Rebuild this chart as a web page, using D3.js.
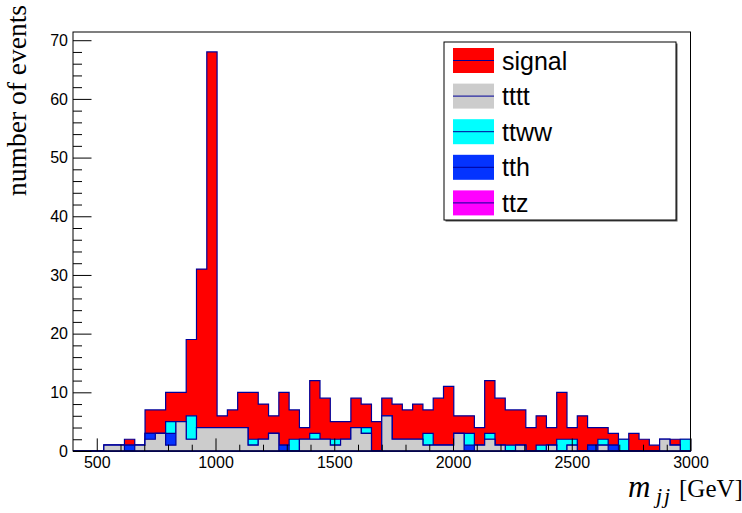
<!DOCTYPE html>
<html>
<head>
<meta charset="utf-8">
<script src="https://cdn.jsdelivr.net/npm/d3@7"></script>
<style>
	body { margin: 0; background: #fff; }
</style>
</head>
<body>
<div id="chart"></div>
<script>
'use strict';

// histogram binning (GeV)
const xLow = 400;
const xHigh = 3000;
const nBins = 60;

// bin contents, stacked bottom -> top
const ttz = [
	0,0,0,0,0,0,0,0,0,0, 0,0,0,0,0,0,0,0,0,0,
	0,0,0,0,0,0,0,0,0,0, 0,0,0,0,0,0,0,0,0,0,
	0,0,0,0,0,0,0,0,0,0, 0,0,0,0,0,0,0,0,0,0 ];
const tttt = [
	0,0,0,1,1,0,1,2,3,1, 5,2,4,4,4,4,4,1,2,3,
	0,0,2,2,2,1,2,4,3,0, 6,2,2,2,1,1,1,3,0,1,
	2,1,0,1,0,0,1,0,1,0, 0,1,0,0,0,0,0,2,1,0 ];
const tth = [
	0,0,0,0,0,1,0,1,0,2, 0,0,0,0,0,0,0,0,0,0,
	1,0,0,0,0,0,0,0,0,0, 0,0,0,0,0,0,0,0,1,0,
	0,0,0,0,0,0,0,0,0,0, 1,0,1,0,0,0,0,0,0,0 ];
const ttww = [
	0,0,0,0,0,0,0,0,0,2, 0,4,0,0,0,0,0,1,0,0,
	0,2,0,1,0,1,0,0,1,0, 0,0,0,0,2,0,0,0,2,0,
	1,0,1,0,0,1,0,2,1,0, 0,1,0,2,0,0,0,0,0,2 ];
const signal = [
	0,0,0,0,0,1,0,4,4,5, 5,13,27,64,2,3,6,8,6,3,
	9,5,2,9,7,3,3,5,4,5, 3,6,5,6,4,8,10,3,3,3,
	9,8,6,6,4,5,3,8,2,6, 3,2,2,0,3,2,1,0,1,0 ];

const names = ["ttz", "tttt", "tth", "ttww", "signal"];
const colors = {
	signal: "#ff0000",
	tttt: "#cccccc",
	ttww: "#00ffff",
	tth: "#0433ff",
	ttz: "#ff00ff" };
const legendNames = ["signal", "tttt", "ttww", "tth", "ttz"];

const xTicks = [500, 1000, 1500, 2000, 2500, 3000];
const yTicks = [0, 10, 20, 30, 40, 50, 60, 70];

const width = 742, height = 513;
const frame = { left: 73, right: 690.5, top: 32, bottom: 451 };
const lineColor = "#000099";

// table for d3.stack
const binWidth = (xHigh - xLow) / nBins;
const table = signal.map((d, i) => ({
	lo: xLow + i * binWidth,
	ttz: ttz[i], tttt: tttt[i], tth: tth[i], ttww: ttww[i], signal: signal[i] }));
// closing point at the upper edge for the step curve
table.push(Object.assign({}, table[table.length-1], { lo: xHigh }));

const stacked = d3.stack().keys(names)(table);
const ymax = 1.05 * d3.max(stacked[stacked.length-1], d => d[1]);

const x = d3.scaleLinear().domain([xLow, xHigh]).range([frame.left, frame.right]);
const y = d3.scaleLinear().domain([0, ymax]).range([frame.bottom, frame.top]);

const svg = d3.select("#chart")
	.append("svg")
		.attr("width", width)
		.attr("height", height)
		.style("font-family", "'Liberation Sans', Arial, sans-serif")
	;

// ROOT style: each layer drawn 0 -> cumulative, top layer first
const area = d3.area()
	.curve(d3.curveStepAfter)
	.x(d => x(d.data.lo))
	.y0(y(0))
	.y1(d => y(d[1]))
	;

svg.append("g")
	.selectAll("path")
	.data(stacked.slice().reverse())
	.join("path")
		.attr("d", area)
		.attr("fill", d => colors[d.key])
		.attr("stroke", lineColor)
		.attr("stroke-width", 1.2)
	;

// axes, ticks inside the frame
const yMinor = d3.range(0, 71.5, 2).filter(v => v % 10 != 0);
const xMinor = d3.range(500, 3001, 100).filter(v => v % 500 != 0);

svg.append("g")
	.attr("transform", `translate(${frame.left},0)`)
	.call(d3.axisLeft(y).tickValues(yMinor).tickSize(-9).tickFormat(""))
	.call(g => g.select(".domain").remove())
	;
svg.append("g")
	.attr("transform", `translate(${frame.left},0)`)
	.call(d3.axisLeft(y).tickValues(yTicks).tickSize(-18.5).tickPadding(5).tickFormat(d3.format("d")))
	.call(g => g.select(".domain").remove())
	.call(g => g.selectAll("text").attr("font-size", 16).attr("fill", "#000"))
	;

svg.append("g")
	.attr("transform", `translate(0,${frame.bottom})`)
	.call(d3.axisBottom(x).tickValues(xMinor).tickSize(-6.3).tickFormat(""))
	.call(g => g.select(".domain").remove())
	;
svg.append("g")
	.attr("transform", `translate(0,${frame.bottom})`)
	.call(d3.axisBottom(x).tickValues(xTicks).tickSize(-12.6).tickPadding(6).tickFormat(d3.format("d")))
	.call(g => g.select(".domain").remove())
	.call(g => g.selectAll("text").attr("font-size", 16).attr("fill", "#000"))
	;

svg.selectAll(".tick line").attr("stroke", "#000");

// frame
svg.append("rect")
	.attr("x", frame.left)
	.attr("y", frame.top)
	.attr("width", frame.right - frame.left)
	.attr("height", frame.bottom - frame.top)
	.attr("fill", "none")
	.attr("stroke", "#000")
	.attr("stroke-width", 1)
	;

// axis titles
svg.append("text")
	.attr("transform", "translate(26,5) rotate(-90)")
	.attr("text-anchor", "end")
	.attr("font-family", "'Liberation Serif', 'Times New Roman', serif")
	.attr("font-size", 27.5)
	.text("number of events")
	;

const xt = svg.append("g")
	.attr("font-family", "'Liberation Serif', 'Times New Roman', serif")
	;
xt.append("text")
	.attr("x", 628).attr("y", 497)
	.attr("font-size", 31)
	.attr("font-style", "italic")
	.text("m");
xt.append("text")
	.attr("x", 656).attr("y", 503)
	.attr("font-size", 22)
	.attr("font-style", "italic")
	.attr("letter-spacing", 2)
	.text("jj");
xt.append("text")
	.attr("x", 679).attr("y", 497)
	.attr("font-size", 25)
	.text("[GeV]");

// legend
const leg = { x: 444, y: 42, w: 232, h: 178, pitch: 35.6 };
svg.append("rect")
	.attr("x", leg.x + 1.5).attr("y", leg.y + 1.5)
	.attr("width", leg.w).attr("height", leg.h)
	.attr("fill", "#555");
svg.append("rect")
	.attr("x", leg.x).attr("y", leg.y)
	.attr("width", leg.w).attr("height", leg.h)
	.attr("fill", "#fff")
	.attr("stroke", "#000")
	.attr("stroke-width", 1);

const entry = svg.append("g")
	.selectAll("g")
	.data(legendNames)
	.join("g")
		.attr("transform", (d, i) => `translate(${leg.x}, ${leg.y + 18.5 + i * leg.pitch})`)
	;
entry.append("rect")
	.attr("x", 9).attr("y", -12.5)
	.attr("width", 41).attr("height", 25)
	.attr("fill", d => colors[d]);
entry.append("line")
	.attr("x1", 9).attr("x2", 50)
	.attr("y1", 0).attr("y2", 0)
	.attr("stroke", lineColor)
	.attr("stroke-width", 1);
entry.append("text")
	.attr("x", 58).attr("y", 9)
	.attr("font-size", 25)
	.text(d => d);
</script>
</body>
</html>
